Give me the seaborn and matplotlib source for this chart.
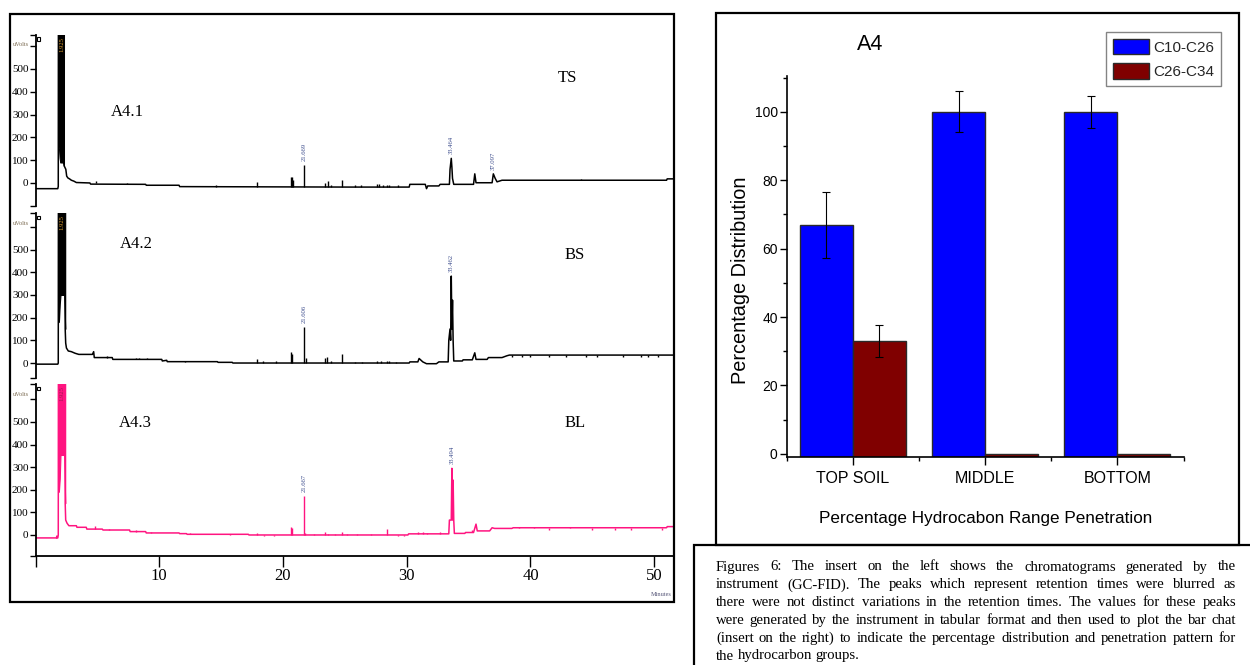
import numpy as np
import pandas as pd
import matplotlib
matplotlib.use("Agg")
import matplotlib.pyplot as plt
import seaborn as sns
from matplotlib.patches import Rectangle

# ---------------- data ----------------
# A4.1 (TS) chromatogram: retention time (min) / signal (uV)
ts_time = [0.0, 1.80, 1.84, 1.85, 2.30, 2.32, 2.36, 2.45, 2.52, 2.62, 2.75, 2.9, 3.1, 3.3, 4.4, 4.45, 8.9,
           8.95, 11.6, 11.65, 25.4, 30.2, 30.25, 31.5, 31.6, 31.7, 32.6, 32.7, 33.45, 33.5, 33.6, 33.65,
           33.7, 33.8, 35.4, 35.5, 35.6, 36.9, 37.0, 37.15, 37.3, 37.7, 51.0, 51.05, 51.6]
ts_signal = [-25, -25, -15, 660, 660, 75, 70, 60, 30, 22, 18, 12, 8, 2, 0, -5, -6,
             -10, -10, -16, -18, -18, -6, -6, -25, -13, -13, -6, -6, 60, 108, 70,
             20, -6, -6, 40, 1, 1, 40, 20, 5, 12, 12, 18, 18]
ts_solvent_time = [1.85, 1.90, 1.95, 2.00, 2.05, 2.10, 2.15, 2.20, 2.25, 2.30]
ts_solvent_low = [160, 150, 110, 90, 90, 90, 90, 90, 85, 75]
ts_solvent_high = [660, 660, 660, 660, 660, 660, 660, 660, 660, 660]
ts_spike_time = [4.9, 7.4, 14.6, 17.9, 20.65, 20.75, 20.85, 21.7, 23.4, 23.6, 23.9, 24.8, 25.8, 26.3, 27.6,
                 27.8, 28.1, 28.4, 28.6, 29.3, 44.1]
ts_spike_base = [0, -6, -18, -18, -18, -18, -18, -18, -18, -18, -18, -18, -18, -18, -18,
                 -18, -18, -18, -18, -18, 12]
ts_spike_top = [8, 0, -10, 5, 25, 25, 12, 80, 0, 10, -8, 15, -8, -10, -5,
                -5, -8, -8, -8, -10, 18]

# A4.2 (BS)
bs_time = [0.0, 1.80, 1.84, 1.85, 2.38, 2.40, 2.44, 2.50, 2.65, 2.9, 3.2, 3.5, 4.6, 4.7, 4.75, 6.2, 6.25,
           10.2, 10.25, 10.6, 10.65, 14.7, 14.75, 15.9, 15.95, 30.2, 30.25, 30.9, 31.0, 31.3, 31.6, 32.4,
           32.6, 33.35, 33.4, 33.5, 33.55, 33.6, 33.65, 33.7, 33.75, 33.8, 34.5, 34.55, 35.3, 35.5, 35.6,
           36.5, 36.6, 37.7, 38.1, 38.3, 51.6]
bs_signal = [-5, -5, 0, 670, 670, 150, 88, 66, 53, 50, 43, 38, 38, 50, 24, 24, 16,
             16, 9, 12, 6, 6, 3, 3, 0, 0, 5, 5, 20, 5, -3, -3,
             5, 5, 100, 150, 100, 383, 150, 277, 100, 9, 9, 14, 14, 45, 16,
             16, 24, 24, 32, 35, 35]
bs_solvent_time = [1.85, 1.90, 1.96, 2.02, 2.08, 2.14, 2.20, 2.26, 2.32, 2.40]
bs_solvent_low = [180, 190, 260, 300, 300, 300, 300, 300, 300, 150]
bs_solvent_high = [670, 670, 670, 670, 670, 670, 670, 670, 670, 670]
bs_spike_time = [5.8, 8.1, 8.4, 9.0, 12.1, 17.9, 18.4, 19.4, 20.65, 20.75, 21.7, 21.85, 23.4, 23.55, 23.9,
                 24.8, 25.8, 26.4, 27.6, 27.9, 28.4, 28.6, 29.1, 38.5, 39.3, 40.0, 41.5, 42.9, 44.5, 45.4,
                 47.5, 48.9, 49.5, 50.3]
bs_spike_base = [24, 16, 16, 16, 6, 0, 0, 0, 0, 0, 0, 0, 0, 0, 0,
                 0, 0, 0, 0, 0, 0, 0, 0, 35, 35, 35, 35, 35, 35, 35,
                 35, 35, 35, 35]
bs_spike_top = [30, 22, 22, 20, 10, 16, 8, 8, 47, 40, 160, 20, 20, 25, 8,
                40, 5, 5, 8, 8, 10, 10, 5, 28, 28, 28, 28, 28, 28, 28,
                28, 28, 28, 28]

# A4.3 (BL)
bl_time = [0.0, 1.70, 1.72, 1.75, 1.80, 1.84, 1.85, 2.38, 2.40, 2.44, 2.55, 2.7, 3.3, 3.35, 4.1, 4.15, 5.4,
           5.45, 7.6, 7.65, 8.9, 8.95, 11.6, 11.65, 12.2, 12.25, 17.2, 17.25, 30.1, 30.15, 33.4, 33.45, 33.6,
           33.65, 33.7, 33.75, 33.8, 33.85, 34.7, 34.75, 35.4, 35.6, 35.7, 36.7, 36.9, 37.1, 38.5, 38.6,
           51.0, 51.05, 51.6]
bl_signal = [-13, -13, -5, -13, -13, 0, 680, 680, 140, 66, 52, 41, 41, 34, 34, 26, 26,
             22, 22, 15, 15, 9, 9, 6, 6, 3, 3, 0, 0, 5, 5, 66, 66,
             295, 66, 243, 66, 7, 7, 11, 11, 48, 18, 18, 32, 29, 29, 32,
             32, 37, 37]
bl_solvent_time = [1.85, 1.90, 1.96, 2.02, 2.08, 2.14, 2.20, 2.26, 2.32, 2.40]
bl_solvent_low = [190, 200, 250, 354, 354, 354, 354, 354, 354, 140]
bl_solvent_high = [680, 680, 680, 680, 680, 680, 680, 680, 680, 680]
bl_spike_time = [4.8, 5.9, 8.1, 9.3, 12.5, 15.7, 17.9, 18.5, 19.3, 20.65, 20.75, 21.7, 21.8, 22.5, 23.4,
                 23.6, 24.2, 24.8, 25.2, 26.0, 27.1, 28.4, 29.3, 29.8, 30.9, 31.3, 31.6, 32.7, 35.3,
                 39.1, 40.3, 41.5, 43.2, 45.0, 46.8, 48.1, 50.6]
bl_spike_base = [26, 22, 15, 9, 3, 3, 0, 0, 0, 0, 0, 0, 0, 0, 0,
                 0, 0, 0, 0, 0, 0, 0, 0, 0, 5, 5, 5, 5, 11,
                 32, 32, 32, 32, 32, 32, 32, 32]
bl_spike_top = [41, 28, 20, 12, 7, 0, 10, -5, -5, 37, 30, 174, 10, 5, 15,
                5, 5, 15, 5, 5, 5, 26, -5, -5, 12, 12, 10, 12, 20,
                37, 37, 22, 37, 22, 22, 22, 22]

# peak annotations (retention time, label)
ts_peak_time = [21.7, 33.6, 37.0]
ts_peak_top = [80, 108, 40]
ts_peak_text = ["21.669", "33.464", "37.097"]
bs_peak_time = [21.7, 33.6]
bs_peak_top = [160, 383]
bs_peak_text = ["21.606", "33.462"]
bl_peak_time = [21.7, 33.65]
bl_peak_top = [174, 295]
bl_peak_text = ["21.667", "33.494"]

chrom_ticks = [0, 100, 200, 300, 400, 500, 600]
chrom_ticklabels = ["0", "100", "200", "300", "400", "500", ""]
time_ticks = [0, 10, 20, 30, 40, 50]
time_ticklabels = ["", "10", "20", "30", "40", "50"]

# bar chart
zones = ["TOP SOIL", "MIDDLE", "BOTTOM"]
groups = ["C10-C26", "C26-C34"]
pct_c10_c26 = [67, 100, 100]
pct_c26_c34 = [33, 0, 0]
err_c10_c26 = [9.7, 6.0, 4.6]
err_c26_c34 = [4.8, 0, 0]
pct_ticks = [0, 20, 40, 60, 80, 100]

caption_lines = [
    "Figures 6: The insert on the left shows the chromatograms generated by the",
    "instrument (GC-FID). The peaks which represent retention times were blurred as",
    "there were not distinct variations in the retention times. The values for these peaks",
    "were generated by the instrument in tabular format and then used to plot the bar chat",
    "(insert on the right) to indicate the percentage distribution and penetration pattern for",
    "the hydrocarbon groups.",
]

# ---------------- figure ----------------
sns.set_theme(style="white")
SANS = ["Liberation Sans", "DejaVu Sans"]
SERIF = ["Liberation Serif", "DejaVu Serif"]
plt.rcParams["font.family"] = SANS

W, H = 1250, 665
fig = plt.figure(figsize=(12.5, 6.65), dpi=100)
fig.patch.set_facecolor("white")


def fx(px):
    return px / W


def fy(py):
    return 1 - py / H


# ---- chromatograms ----
panels = [
    dict(t=ts_time, s=ts_signal, vt=ts_solvent_time, vl=ts_solvent_low, vh=ts_solvent_high,
         st=ts_spike_time, sb=ts_spike_base, stop=ts_spike_top,
         pt=ts_peak_time, ph=ts_peak_top, ptx=ts_peak_text,
         color="black", ylim=(-101, 649), top=35, bottom=206, name="A4.1", tag="TS",
         name_xy=(111, 112), tag_xy=(558, 78)),
    dict(t=bs_time, s=bs_signal, vt=bs_solvent_time, vl=bs_solvent_low, vh=bs_solvent_high,
         st=bs_spike_time, sb=bs_spike_base, stop=bs_spike_top,
         pt=bs_peak_time, ph=bs_peak_top, ptx=bs_peak_text,
         color="black", ylim=(-66, 661), top=213, bottom=378, name="A4.2", tag="BS",
         name_xy=(120, 244), tag_xy=(565, 255)),
    dict(t=bl_time, s=bl_signal, vt=bl_solvent_time, vl=bl_solvent_low, vh=bl_solvent_high,
         st=bl_spike_time, sb=bl_spike_base, stop=bl_spike_top,
         pt=bl_peak_time, ph=bl_peak_top, ptx=bl_peak_text,
         color="#ff1480", ylim=(-93, 668), top=384, bottom=556, name="A4.3", tag="BL",
         name_xy=(119, 423), tag_xy=(565, 423)),
]

x_left, x_right = 35.5, 674
for i, p in enumerate(panels):
    ax = fig.add_axes([fx(x_left), fy(p["bottom"]), fx(x_right) - fx(x_left),
                       (p["bottom"] - p["top"]) / H])
    ax.set_facecolor("none")
    sns.lineplot(x=p["t"], y=p["s"], ax=ax, color=p["color"], lw=1.1,
                 estimator=None, sort=False, legend=False)
    ax.fill_between(p["vt"], p["vl"], p["vh"], color=p["color"], lw=0.8)
    ax.vlines(p["st"], p["sb"], p["stop"], color=p["color"], lw=1.0)
    for tt, hh, lab in zip(p["pt"], p["ph"], p["ptx"]):
        ax.text(tt, hh + 18, lab, rotation=90, ha="center", va="bottom",
                fontsize=4.8, color="#3c4c8c", family=SERIF)
    ax.text(2.1, p["ylim"][1] - 8, "1.925", rotation=90, ha="center", va="top",
            fontsize=4.8, color="#e0a030" if i < 2 else "#a01850", family=SERIF, clip_on=True)
    ax.set_xlim(0, 51.6)
    ax.set_ylim(*p["ylim"])
    for side in ["top", "right", "bottom"]:
        ax.spines[side].set_visible(False)
    ax.spines["left"].set_color("black")
    ax.spines["left"].set_linewidth(1.3)
    ax.set_yticks(chrom_ticks)
    ax.set_yticklabels(chrom_ticklabels, fontsize=8, family=SERIF)
    ax.set_yticks([p["ylim"][0] + 0.5, p["ylim"][1] - 0.5], minor=True)
    ax.tick_params(axis="y", which="both", left=True, direction="out", length=4.5,
                   width=1.0, color="black", pad=0.5, labelcolor="black")
    ax.set_ylabel("")
    ax.set_xlabel("")
    if i < 2:
        ax.set_xticks([])
    else:
        ax.spines["bottom"].set_visible(True)
        ax.spines["bottom"].set_color("black")
        ax.spines["bottom"].set_linewidth(1.3)
        ax.set_xticks(time_ticks)
        ax.set_xticklabels(time_ticklabels, fontsize=12, family=SERIF)
        ax.tick_params(axis="x", bottom=True, direction="out", length=8, width=1.0,
                       color="black", pad=0.5, labelcolor="black")
    # units label at the 600 tick
    fig.text(fx(13), fy(p["top"] + 10), "uVolts", fontsize=4.5, color="#7a6a50",
             family=SERIF, va="center", ha="left")
    fig.add_artist(Rectangle((fx(37), fy(p["top"] + 6)), 3.5 / W, 3.5 / H,
                             transform=fig.transFigure, fill=False, ec="black", lw=0.8))
    fig.text(fx(p["name_xy"][0]), fy(p["name_xy"][1]), p["name"], fontsize=12,
             family=SERIF, va="center", ha="left", color="black")
    fig.text(fx(p["tag_xy"][0]), fy(p["tag_xy"][1]), p["tag"], fontsize=12,
             family=SERIF, va="center", ha="left", color="black")

fig.text(fx(661), fy(594), "Minutes", fontsize=4.5, color="#555577", family=SERIF,
         ha="center", va="center")

# ---- bar chart ----
bx0, bx1, by_top, by_bot = 786.7, 1183.5, 76, 457.3
axb = fig.add_axes([fx(bx0), fy(by_bot), fx(bx1) - fx(bx0), (by_bot - by_top) / H])
axb.set_facecolor("none")
df = pd.DataFrame({
    "zone": zones * 2,
    "group": [groups[0]] * 3 + [groups[1]] * 3,
    "pct": pct_c10_c26 + pct_c26_c34,
})
sns.barplot(data=df, x="zone", y="pct", hue="group", order=zones, hue_order=groups,
            palette=["#0000ff", "#800000"], errorbar=None, width=0.8, saturation=1,
            edgecolor="#2a2a2a", linewidth=1.0, ax=axb)
ylo, yhi = -1, 110.5
axb.set_ylim(ylo, yhi)
axb.set_xlim(-0.5, 2.5)
# bars start at the axis line (Origin style)
for cont in axb.containers:
    for bar in cont:
        top = bar.get_y() + bar.get_height()
        bar.set_y(ylo)
        bar.set_height(top - ylo)
for cont, errs in zip(axb.containers, [err_c10_c26, err_c26_c34]):
    for bar, e in zip(cont, errs):
        if e > 0:
            axb.errorbar(bar.get_x() + bar.get_width() / 2, bar.get_y() + bar.get_height(),
                         yerr=e, fmt="none", ecolor="black", elinewidth=0.8, capsize=3,
                         capthick=0.8)
for side in ["top", "right"]:
    axb.spines[side].set_visible(False)
for side in ["left", "bottom"]:
    axb.spines[side].set_color("black")
    axb.spines[side].set_linewidth(1.2)
axb.set_yticks(pct_ticks)
axb.set_yticks([10, 30, 50, 70, 90, 110], minor=True)
axb.set_xticks([0, 1, 2])
axb.set_xticks([-0.5, 0.5, 1.5, 2.5], minor=True)
axb.set_xticklabels(zones, fontsize=11.5, family=SANS)
axb.set_yticklabels([str(v) for v in pct_ticks], fontsize=10, family=SANS)
axb.tick_params(axis="y", which="major", left=True, direction="out", length=5, width=1,
                color="black", pad=1.5, labelcolor="black")
axb.tick_params(axis="y", which="minor", left=True, direction="out", length=3, width=1,
                color="black")
axb.tick_params(axis="x", which="major", bottom=True, direction="out", length=6, width=1,
                color="black", pad=4, labelcolor="black")
axb.tick_params(axis="x", which="minor", bottom=True, direction="out", length=3, width=1,
                color="black")
axb.set_ylabel("Percentage Distribution", fontsize=14.3, family=SANS, color="black")
axb.yaxis.set_label_coords((740 - bx0) / (bx1 - bx0), (by_bot - 280) / (by_bot - by_top))
axb.yaxis.label.set_va("center")
axb.set_xlabel("Percentage Hydrocabon Range Penetration", fontsize=12.3, family=SANS,
               color="black")
axb.xaxis.set_label_coords((986 - bx0) / (bx1 - bx0), (by_bot - 519) / (by_bot - by_top))
axb.xaxis.label.set_va("center")
leg = axb.legend(loc="upper left", bbox_to_anchor=(fx(1106), fy(32)),
                 bbox_transform=fig.transFigure, frameon=True, fancybox=False,
                 edgecolor="#666666", handlelength=2.35, handleheight=1.18,
                 handletextpad=0.26, labelspacing=0.55, borderpad=0.45, borderaxespad=0,
                 prop={"family": SANS, "size": 11})
leg.get_frame().set_linewidth(1.0)
for h in leg.legend_handles:
    h.set_edgecolor("#2a2a2a")
fig.text(fx(870.5), fy(44), "A4", fontsize=15.5, family=SANS, ha="center", va="center",
         color="black")

# ---- frames ----
def box(x0, y0, x1, y1, lw=1.6):
    fig.add_artist(Rectangle((fx(x0), fy(y1)), (x1 - x0) / W, (y1 - y0) / H,
                             transform=fig.transFigure, fill=False, ec="black", lw=lw))


box(9.5, 13.5, 674, 602)
box(716, 13, 1239, 545)
box(694, 545, 1262, 690)

# ---- caption, justified ----
fig.canvas.draw()
renderer = fig.canvas.get_renderer()
cx0, cx1 = 716, 1236
cy0, pitch = 567, 17.8
for li, line in enumerate(caption_lines):
    words = line.split()
    ypos = fy(cy0 + li * pitch)
    texts = [fig.text(0, ypos, w, fontsize=10.6, family=SERIF, va="center", ha="left",
                      color="black") for w in words]
    widths = [t.get_window_extent(renderer).width for t in texts]
    if li < len(caption_lines) - 1:
        gap = max(2.5, (cx1 - cx0 - sum(widths)) / (len(words) - 1))
    else:
        gap = 3.4
    xpos = cx0
    for t, wdt in zip(texts, widths):
        t.set_x(fx(xpos))
        xpos += wdt + gap

fig.savefig("out.png", dpi=100)
